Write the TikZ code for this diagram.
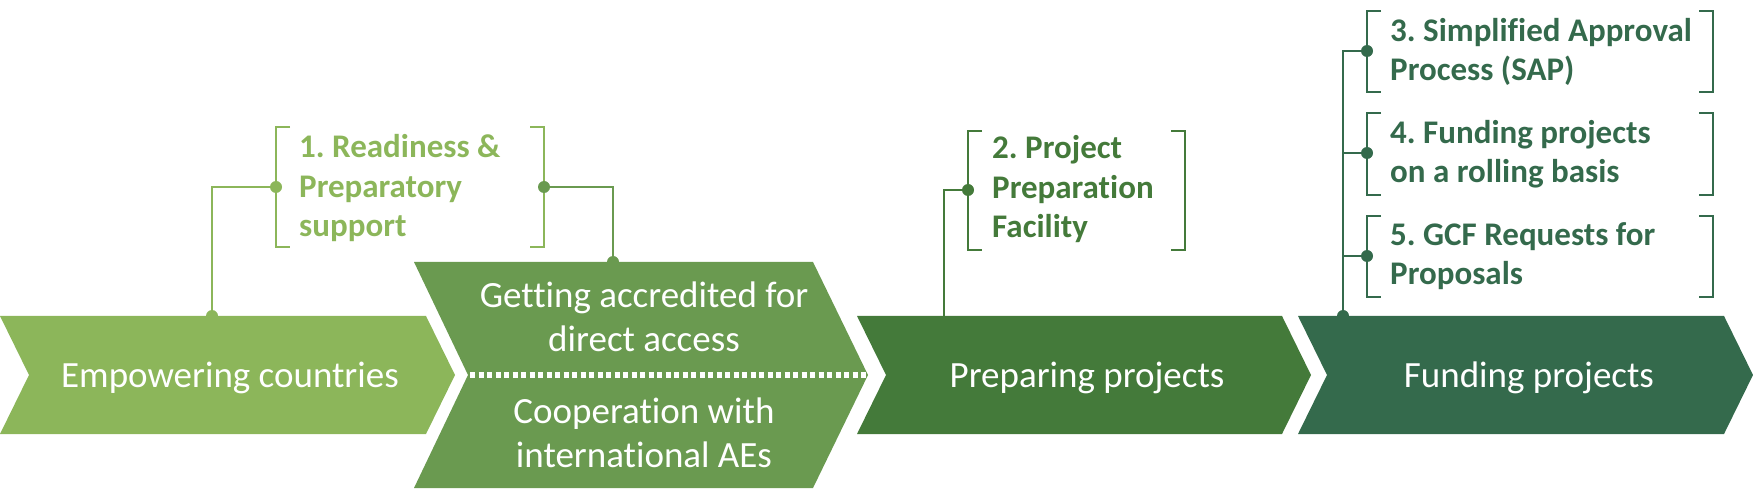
\documentclass[tikz,border=0pt]{standalone}
\usepackage{fontspec}
\setmainfont{Carlito}[Ligatures=NoCommon]
\frenchspacing
\definecolor{cA}{HTML}{8CB65A}
\definecolor{cB}{HTML}{6A9A50}
\definecolor{cC}{HTML}{447A3A}
\definecolor{cD}{HTML}{346A4C}
\tikzset{
  chevtext/.style={text=white, font=\fontsize{37}{44}\selectfont, align=center, anchor=base, inner sep=0pt},
  brtext/.style={font=\bfseries\fontsize{33}{39.5}\selectfont, align=left, anchor=base west, inner sep=0pt},
  brline/.style={line width=1.5pt},
  conn/.style={line width=2pt},
  dot/.style={circle, inner sep=0pt, minimum size=12pt, draw=none},
  sep/.style={white, line width=5pt, dash pattern=on 5pt off 3.5pt},
}
\begin{document}
\begin{tikzpicture}[x=1pt,y=-1pt]
\useasboundingbox (0,0) rectangle (1753,502);
% chevrons
\fill[cA] (0,316) -- (426,316) -- (455,375) -- (426,434) -- (0,434) -- (29,375) -- cycle;
\fill[cB] (414,262) -- (813,262) -- (868,375) -- (813,488) -- (414,488) -- (468,375) -- cycle;
\fill[cC] (857,316) -- (1282,316) -- (1311,375) -- (1282,434) -- (857,434) -- (886,375) -- cycle;
\fill[cD] (1298,316) -- (1724,316) -- (1753,375) -- (1724,434) -- (1298,434) -- (1327,375) -- cycle;
\coordinate (sepL) at (470,375);
\coordinate (sepR) at (866,375);
\draw[sep] (sepL) -- (sepR);
% chevron texts (base = last line)
\node[chevtext] (t1) at (230,388) {Empowering countries};
\node[chevtext] (t2a) at (644,352) {Getting accredited for\\direct access};
\node[chevtext] (t2b) at (644,467) {Cooperation with\\international AEs};
\node[chevtext] (t3) at (1087,388) {Preparing projects};
\node[chevtext] (t4) at (1529,388) {Funding projects};
% bracket 1
\draw[brline, cA] (290,127) -- (276,127) -- (276,247) -- (290,247);
\draw[brline, cA] (530,127) -- (544,127) -- (544,247) -- (530,247);
\node[brtext, text=cA] (b1) at (299,237) {1. Readiness \&\\Preparatory\\support};
% bracket 2
\draw[brline, cC] (982,131) -- (968,131) -- (968,250) -- (982,250);
\draw[brline, cC] (1171,131) -- (1185,131) -- (1185,250) -- (1171,250);
\node[brtext, text=cC] (b2) at (992,238) {2. Project\\Preparation\\Facility};
% brackets 3-5
\foreach \t/\b in {11/92,113/195,216/297}{
  \draw[brline, cD] (1381,\t) -- (1367,\t) -- (1367,\b) -- (1381,\b);
  \draw[brline, cD] (1699,\t) -- (1713,\t) -- (1713,\b) -- (1699,\b);
}
\node[brtext, text=cD] (b3) at (1390,81) {3. Simplified Approval\\Process (SAP)};
\node[brtext, text=cD] (b4) at (1390,183) {4. Funding projects\\on a rolling basis};
\node[brtext, text=cD] (b5) at (1390,285) {5. GCF Requests for\\Proposals};
% connectors and dots
\node[dot, fill=cA] (d1l) at (276,187) {};
\node[dot, fill=cA] (e1) at (212,316) {};
\draw[conn, cA] (d1l.center) -| (e1.center);
\node[dot, fill=cB] (d1r) at (544,187) {};
\node[dot, fill=cB] (e2) at (613,262) {};
\draw[conn, cB] (d1r.center) -| (e2.center);
\node[dot, fill=cC] (d2) at (968,190) {};
\coordinate (e3) at (944,316);
\draw[conn, cC] (d2.center) -| (e3);
\node[dot, fill=cD] (d3) at (1367,51) {};
\node[dot, fill=cD] (d4) at (1367,153) {};
\node[dot, fill=cD] (d5) at (1367,256) {};
\node[dot, fill=cD] (e4) at (1343,316) {};
\draw[conn, cD] (d3.center) -| (e4.center);
\draw[conn, cD] (d4.center) -- (d4.center -| e4.center);
\draw[conn, cD] (d5.center) -- (d5.center -| e4.center);
\end{tikzpicture}
\end{document}
